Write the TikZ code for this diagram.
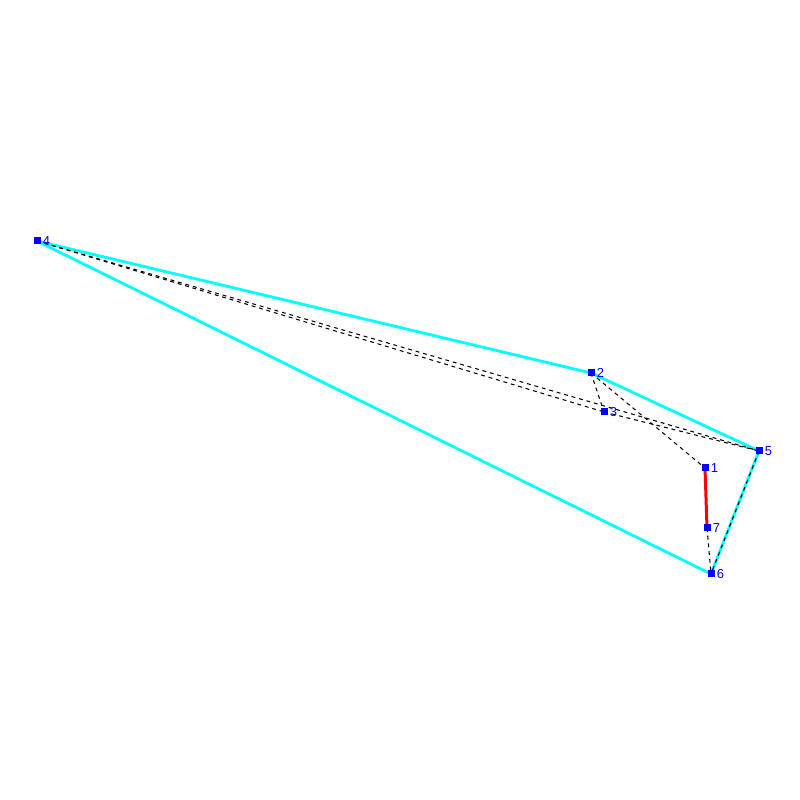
\documentclass[tikz,border=0pt]{standalone}
\usepackage{fontspec}
\setsansfont{Liberation Sans}
\usetikzlibrary{calc}
\definecolor{hullcyan}{RGB}{0,255,255}

\begin{document}
\begin{tikzpicture}[
  pt/.style={fill=blue,draw=none,minimum size=0.7mm,inner sep=0pt,
    label={[font=\sffamily\fontsize{3.7}{4}\selectfont,text=blue,inner sep=0.3pt]right:#1}},
  hull/.style={hullcyan,line width=0.8pt,line join=round},
  edge/.style={black,line width=0.3pt,dash pattern=on 1.1pt off 1.1pt},
  path/.style={red,line width=0.85pt}]
\useasboundingbox (0,0) rectangle (8,8);
\node (p1) at (7.05,3.32) {};
\node (p2) at (5.91,4.27) {};
\node (p3) at (6.04,3.88) {};
\node (p4) at (0.37,5.59) {};
\node (p5) at (7.59,3.49) {};
\node (p6) at (7.11,2.26) {};
\node (p7) at (7.07,2.72) {};
% hull
\draw[hull] (p4.center) -- (p2.center) -- (p5.center) -- (p6.center) -- cycle;
% dashed edges
\draw[edge] (p4.center) -- (p3.center);
\draw[edge] (p4.center) -- (p5.center);
\draw[edge] (p2.center) -- (p3.center);
\draw[edge] (p2.center) -- (p1.center);
\draw[edge] (p3.center) -- (p5.center);
\draw[edge] (p5.center) -- (p6.center);
\draw[edge] (p7.center) -- (p6.center);
% path
\draw[path] (p1.center) -- (p7.center);
% points
\node[pt=1] at (p1) {};
\node[pt=2] at (p2) {};
\node[pt=3] at (p3) {};
\node[pt=4] at (p4) {};
\node[pt=5] at (p5) {};
\node[pt=6] at (p6) {};
\node[pt=7] at (p7) {};
\end{tikzpicture}
\end{document}
